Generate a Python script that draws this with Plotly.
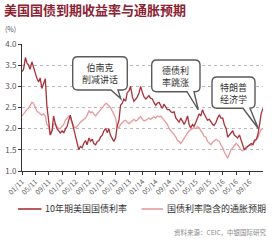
import pandas as pd
import plotly.graph_objects as go

# semi-monthly observations, Jan 2011 - Jan 2017
dates = pd.date_range("2011-01-01", periods=145, freq="SMS")

yield_10y = [
    3.35, 3.40, 3.68, 3.55, 3.50, 3.40, 3.58, 3.45, 3.35, 3.20, 3.10, 3.20,
    2.95, 3.05, 3.18, 2.55, 2.15, 1.85, 1.95, 2.30, 2.10, 2.00, 1.95, 1.90,
    1.95, 1.90, 2.00, 2.05, 2.20, 2.32, 2.15, 2.00, 1.85, 1.70, 1.50, 1.58,
    1.55, 1.65, 1.72, 1.62, 1.78, 1.70, 1.75, 1.65, 1.62, 1.70, 1.72, 1.80,
    1.85, 1.95, 2.00, 1.90, 2.00, 1.85, 1.75, 1.70, 1.78, 2.05, 2.20, 2.55,
    2.60, 2.70, 2.65, 2.85, 2.90, 3.00, 2.75, 2.65, 2.70, 2.75, 2.85, 3.00,
    2.85, 2.75, 2.70, 2.75, 2.78, 2.72, 2.70, 2.62, 2.55, 2.60, 2.62, 2.55,
    2.48, 2.58, 2.50, 2.45, 2.45, 2.40, 2.38, 2.40, 2.25, 2.20, 2.15, 2.25,
    2.15, 2.10, 2.20, 2.30, 2.10, 2.02, 2.10, 2.05, 2.15, 2.25, 2.35, 2.30,
    2.45, 2.35, 2.28, 2.20, 2.22, 2.15, 2.10, 2.08, 2.15, 2.25, 2.33, 2.25,
    2.25, 2.10, 2.00, 1.80, 1.85, 1.92, 1.95, 1.85, 1.80, 1.78, 1.85, 1.75,
    1.60, 1.50, 1.55, 1.58, 1.60, 1.65, 1.62, 1.72, 1.75, 1.85, 2.10, 2.35,
    2.48,
]

breakeven = [
    2.30, 2.35, 2.40, 2.45, 2.48, 2.55, 2.62, 2.60, 2.50, 2.42, 2.38, 2.35,
    2.32, 2.35, 2.30, 2.10, 2.05, 1.85, 1.95, 2.10, 2.12, 2.05, 2.00, 2.00,
    2.05, 2.10, 2.20, 2.25, 2.30, 2.25, 2.15, 2.05, 2.02, 2.05, 2.10, 2.15,
    2.18, 2.20, 2.25, 2.32, 2.42, 2.38, 2.40, 2.35, 2.30, 2.35, 2.40, 2.45,
    2.50, 2.55, 2.60, 2.58, 2.55, 2.50, 2.42, 2.35, 2.25, 2.05, 2.02, 2.10,
    2.15, 2.18, 2.20, 2.15, 2.12, 2.15, 2.20, 2.22, 2.18, 2.20, 2.25, 2.28,
    2.22, 2.18, 2.20, 2.22, 2.25, 2.22, 2.25, 2.28, 2.25, 2.30, 2.28, 2.30,
    2.25, 2.20, 2.15, 2.10, 2.00, 1.95, 1.90, 1.85, 1.80, 1.72, 1.70, 1.65,
    1.72, 1.80, 1.85, 1.90, 1.95, 1.98, 2.00, 2.02, 2.00, 2.05, 2.02, 1.95,
    1.90, 1.82, 1.80, 1.70, 1.65, 1.62, 1.68, 1.72, 1.75, 1.72, 1.70, 1.62,
    1.55, 1.45, 1.35, 1.30, 1.40, 1.50, 1.55, 1.60, 1.65, 1.62, 1.55, 1.50,
    1.48, 1.52, 1.55, 1.58, 1.62, 1.60, 1.65, 1.70, 1.75, 1.78, 1.90, 1.98,
    2.00,
]

series_names = ["10年期美国国债利率", "国债利率隐含的通胀预期"]
series_colors = ["#a8323a", "#e79a9c"]

callout_texts = ["伯南克<br>削减讲话", "德债利<br>率跳涨", "特朗普<br>经济学"]

title_text = "美国国债到期收益率与通胀预期"
source_text = "资料来源：CEIC，中银国际研究"

FONT = "Noto Sans CJK SC"
W, H = 272, 240
L, R, T, B = 22, 9, 44, 69
PW, PH = W - L - R, H - T - B


def px(x):
    return round((x - L) / PW, 5)


def py(y):
    return round((H - B - y) / PH, 5)


def bubble(x0, y0, x1, y1, t0, t1, tipx, tipy, r=5):
    pts = [
        f"M {px(x0 + r)},{py(y0)}",
        f"L {px(x1 - r)},{py(y0)}",
        f"Q {px(x1)},{py(y0)} {px(x1)},{py(y0 + r)}",
        f"L {px(x1)},{py(y1 - r)}",
        f"Q {px(x1)},{py(y1)} {px(x1 - r)},{py(y1)}",
        f"L {px(t1)},{py(y1)}",
        f"L {px(tipx)},{py(tipy)}",
        f"L {px(t0)},{py(y1)}",
        f"L {px(x0 + r)},{py(y1)}",
        f"Q {px(x0)},{py(y1)} {px(x0)},{py(y1 - r)}",
        f"L {px(x0)},{py(y0 + r)}",
        f"Q {px(x0)},{py(y0)} {px(x0 + r)},{py(y0)}",
        "Z",
    ]
    return " ".join(pts)


def note(x, y, text, size, color, xa="center", ya="middle", align="center"):
    return dict(xref="paper", yref="paper", x=px(x), y=py(y), xanchor=xa, yanchor=ya,
                text=text, showarrow=False, align=align,
                font=dict(family=FONT, size=size, color=color))


fig = go.Figure()
fig.add_trace(go.Scatter(x=dates, y=breakeven, mode="lines", name=series_names[1],
                         line=dict(color=series_colors[1], width=1.3)))
fig.add_trace(go.Scatter(x=dates, y=yield_10y, mode="lines", name=series_names[0],
                         line=dict(color=series_colors[0], width=1.3)))

bubbles = [
    (72.7, 56.7, 127.3, 90, 111, 118, 120.7, 98.5),
    (151.7, 60, 200, 91.7, 187, 194, 198.3, 110),
    (212, 77, 255, 108.3, 243, 250, 258.3, 128.5),
]
shapes = []
annotations = []
for (x0, y0, x1, y1, t0, t1, tx, ty), txt in zip(bubbles, callout_texts):
    shapes.append(dict(type="path", xref="paper", yref="paper",
                       path=bubble(x0, y0, x1, y1, t0, t1, tx, ty),
                       line=dict(color="#5a5a5a", width=1.4), fillcolor="white", layer="above"))
    annotations.append(note((x0 + x1) / 2, (y0 + y1) / 2 + 0.5, txt, 9, "#333333"))

# manual legend
legend_items = [(18, 41.5, 43), (141.5, 163, 165)]
for (lx0, lx1, tx), name, col in zip(legend_items, series_names, series_colors):
    shapes.append(dict(type="line", xref="paper", yref="paper",
                       x0=px(lx0), x1=px(lx1), y0=py(209), y1=py(209),
                       line=dict(color=col, width=1.6)))
    annotations.append(note(tx, 209, name, 9, "#333333", xa="left"))

annotations.append(note(3, 29, "(%)", 7, "#555555", xa="left"))
annotations.append(note(269, 232, source_text, 6.5, "#888888", xa="right"))
annotations.append(note(2, 9, f"<b>{title_text}</b>", 13, "#8b2232", xa="left"))

fig.update_layout(
    width=W, height=H,
    margin=dict(l=L, r=R, t=T, b=B, autoexpand=False),
    paper_bgcolor="white", plot_bgcolor="white",
    showlegend=False,
    shapes=shapes,
    annotations=annotations,
    xaxis=dict(type="date", range=["2011-01-01", "2017-01-01"],
               tickvals=pd.date_range("2011-01-01", "2016-09-01", freq="4MS"),
               tickformat="%m/%y", tickangle=-45, showgrid=False,
               showline=True, linecolor="#333333", linewidth=1,
               ticks="outside", ticklen=3, tickcolor="#333333",
               tickfont=dict(family=FONT, size=7, color="#555555"), fixedrange=True),
    yaxis=dict(range=[1, 4], tickvals=[1.0, 1.5, 2.0, 2.5, 3.0, 3.5, 4.0], tickformat=".1f",
               showgrid=True, gridcolor="#bbbbbb", griddash="dot", gridwidth=1,
               showline=True, linecolor="#333333", linewidth=1, zeroline=False,
               ticks="outside", ticklen=3, tickcolor="#333333",
               tickfont=dict(family=FONT, size=8, color="#555555"), fixedrange=True),
)

fig.write_html("out.html", config={"displayModeBar": False})
